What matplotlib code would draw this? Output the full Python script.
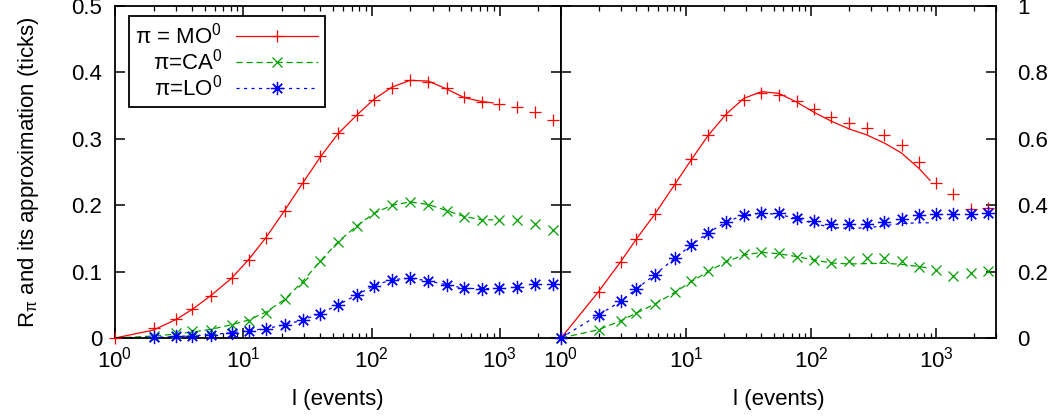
import matplotlib
matplotlib.use("Agg")
import matplotlib.pyplot as plt
from matplotlib.ticker import LogLocator, FixedLocator, FuncFormatter, NullFormatter

plt.rcParams["font.family"] = ["Liberation Sans", "DejaVu Sans"]
plt.rcParams["mathtext.fontset"] = "custom"
plt.rcParams["mathtext.rm"] = "Liberation Sans"
plt.rcParams["mathtext.it"] = "Liberation Sans"
plt.rcParams["mathtext.bf"] = "Liberation Sans:bold"

# ---------------------------------------------------------------------------
# Data
# ---------------------------------------------------------------------------

# measured points (markers), shared x for both panels
l_points = [1, 2, 3, 4, 5.6, 8.1, 11, 15, 21, 29, 40, 55, 77, 105, 145, 200,
            277, 385, 528, 730, 990, 1370, 1880, 2610]
# approximation curves stop a bit earlier
l_fit = [1, 2, 3, 4, 5.6, 8.1, 11, 15, 21, 29, 40, 55, 77, 105, 145, 200,
         277, 385, 528, 730, 890]

series_labels = [r"π = MO$^{0}$", r"π=CA$^{0}$", r"π=LO$^{0}$"]

# left panel (CA / LO points start at l=2)
left_mo = [0, 0.015, 0.029, 0.043, 0.064, 0.090, 0.118, 0.151, 0.192, 0.233, 0.274, 0.308,
           0.336, 0.359, 0.377, 0.388, 0.386, 0.376, 0.363, 0.356, 0.352, 0.348, 0.340, 0.329]
left_ca = [0.0025, 0.0075, 0.010, 0.0125, 0.020, 0.026, 0.038, 0.058, 0.085, 0.116, 0.145,
           0.169, 0.188, 0.201, 0.2055, 0.201, 0.192, 0.182, 0.178, 0.178, 0.177, 0.171, 0.163]
left_lo = [0.001, 0.0025, 0.0035, 0.005, 0.008, 0.011, 0.0135, 0.020, 0.0265, 0.0366, 0.050,
           0.065, 0.0787, 0.0877, 0.090, 0.086, 0.080, 0.075, 0.0735, 0.075, 0.077, 0.081, 0.081]
left_mo_fit = [0, 0.012, 0.028, 0.043, 0.064, 0.090, 0.118, 0.151, 0.192, 0.233, 0.273, 0.308,
               0.336, 0.360, 0.378, 0.388, 0.387, 0.375, 0.362, 0.356, 0.354]
left_ca_fit = [0, 0.003, 0.006, 0.009, 0.013, 0.020, 0.027, 0.039, 0.058, 0.085, 0.116, 0.145,
               0.169, 0.188, 0.200, 0.205, 0.201, 0.192, 0.183, 0.178, 0.178]
left_lo_fit = [0, 0.001, 0.002, 0.0035, 0.005, 0.008, 0.011, 0.014, 0.020, 0.027, 0.037, 0.050,
               0.065, 0.079, 0.088, 0.090, 0.086, 0.080, 0.075, 0.074, 0.075]

# right panel
right_mo = [0, 0.14, 0.23, 0.298, 0.372, 0.463, 0.538, 0.61, 0.673, 0.718, 0.738, 0.733,
            0.715, 0.69, 0.665, 0.648, 0.632, 0.61, 0.58, 0.53, 0.467, 0.433, 0.39, 0.393]
right_ca = [0, 0.025, 0.052, 0.075, 0.102, 0.138, 0.172, 0.202, 0.232, 0.252, 0.26, 0.255,
            0.245, 0.235, 0.227, 0.233, 0.24, 0.24, 0.233, 0.215, 0.205, 0.188, 0.195, 0.203]
right_lo = [0, 0.07, 0.11, 0.148, 0.19, 0.24, 0.28, 0.317, 0.35, 0.37, 0.378, 0.375,
            0.362, 0.352, 0.342, 0.342, 0.342, 0.348, 0.357, 0.37, 0.372, 0.372, 0.372, 0.377]
right_mo_fit = [0, 0.14, 0.23, 0.298, 0.372, 0.462, 0.537, 0.61, 0.675, 0.722, 0.742, 0.737,
                0.71, 0.68, 0.653, 0.63, 0.612, 0.587, 0.557, 0.51, 0.475]
right_ca_fit = [0, 0.025, 0.052, 0.075, 0.102, 0.137, 0.17, 0.2, 0.23, 0.25, 0.258, 0.254,
                0.245, 0.235, 0.226, 0.223, 0.224, 0.225, 0.222, 0.215, 0.21]
right_lo_fit = [0, 0.07, 0.11, 0.148, 0.19, 0.24, 0.28, 0.317, 0.35, 0.37, 0.376, 0.372,
                0.36, 0.345, 0.333, 0.33, 0.332, 0.338, 0.345, 0.347, 0.347]

left_yticks = [0, 0.1, 0.2, 0.3, 0.4, 0.5]
right_yticks = [0, 0.2, 0.4, 0.6, 0.8, 1.0]

# ---------------------------------------------------------------------------
# Styles (gnuplot-ish)
# ---------------------------------------------------------------------------

FS = 16
RED, GREEN, BLUE = "#ff0000", "#00a000", "#0000ff"
STYLES = [
    dict(color=RED, marker="+", ms=8, dashes=None),
    dict(color=GREEN, marker="x", ms=7.5, dashes=(5, 3)),
    dict(color=BLUE, marker=(8, 2, 0), ms=9.5, dashes=(2.5, 3.5)),
]


def line_kw(st, with_marker=False):
    kw = dict(color=st["color"], lw=0.9)
    if st["dashes"] is not None:
        kw["dashes"] = st["dashes"]
    if with_marker:
        kw.update(marker=st["marker"], ms=st["ms"], mew=0.9)
    return kw


def draw_panel(ax, pts, fits):
    for (xs, p), f, st in zip(pts, fits, STYLES):
        ax.plot(l_fit, f, clip_on=False, **line_kw(st))
        ax.plot(xs, p, ls="none", marker=st["marker"], ms=st["ms"], mew=0.9,
                color=st["color"], clip_on=False, zorder=4)


def style_axes(ax):
    ax.set_xscale("log")
    ax.set_xlim(1, 3000)
    for sp in ax.spines.values():
        sp.set_linewidth(1.3)
    ax.xaxis.set_major_locator(LogLocator(base=10, numticks=10))
    ax.xaxis.set_minor_locator(LogLocator(base=10, subs=range(2, 10), numticks=20))
    ax.xaxis.set_minor_formatter(NullFormatter())
    ax.tick_params(which="major", direction="in", length=7, width=1.1,
                   top=True, bottom=True, labelsize=FS)
    ax.tick_params(which="minor", direction="in", length=3.8, width=0.9,
                   top=True, bottom=True)
    ax.tick_params(axis="x", which="major", pad=6)
    ax.set_xlabel("l (events)", fontsize=FS, labelpad=12)


fig = plt.figure(figsize=(10.51, 4.17), dpi=100)
ax1 = fig.add_axes([115 / 1051, 79 / 417, 446 / 1051, 332 / 417])
ax2 = fig.add_axes([561 / 1051, 79 / 417, 435 / 1051, 332 / 417])

fmt = FuncFormatter(lambda v, _: f"{v:g}")

# left panel
draw_panel(ax1,
           [(l_points, left_mo), (l_points[1:], left_ca), (l_points[1:], left_lo)],
           [left_mo_fit, left_ca_fit, left_lo_fit])
style_axes(ax1)
ax1.set_ylim(0, 0.5)
ax1.yaxis.set_major_locator(FixedLocator(left_yticks))
ax1.yaxis.set_major_formatter(fmt)
ax1.tick_params(axis="y", left=True, right=True, pad=9)
ax1.set_ylabel(r"R$_{\pi}$ and its approximation (ticks)", fontsize=FS, labelpad=22)

handles = [plt.Line2D([], [], **line_kw(st, with_marker=True)) for st in STYLES]
leg = ax1.legend(handles, series_labels, loc="upper left",
                 bbox_to_anchor=(0.031, 0.97), borderaxespad=0,
                 markerfirst=False, handlelength=3.7, handletextpad=0.6,
                 labelspacing=0.0, borderpad=0.3, fontsize=FS,
                 fancybox=False, framealpha=1, edgecolor="black")
leg.get_frame().set_linewidth(1.3)

# right panel
draw_panel(ax2,
           [(l_points, right_mo), (l_points, right_ca), (l_points, right_lo)],
           [right_mo_fit, right_ca_fit, right_lo_fit])
style_axes(ax2)
ax2.set_ylim(0, 1)
ax2.yaxis.set_major_locator(FixedLocator(right_yticks))
ax2.yaxis.set_major_formatter(fmt)
ax2.yaxis.tick_right()
ax2.tick_params(axis="y", left=True, right=True, labelleft=False,
                labelright=True, pad=15)

fig.savefig("out.png", dpi=100)
